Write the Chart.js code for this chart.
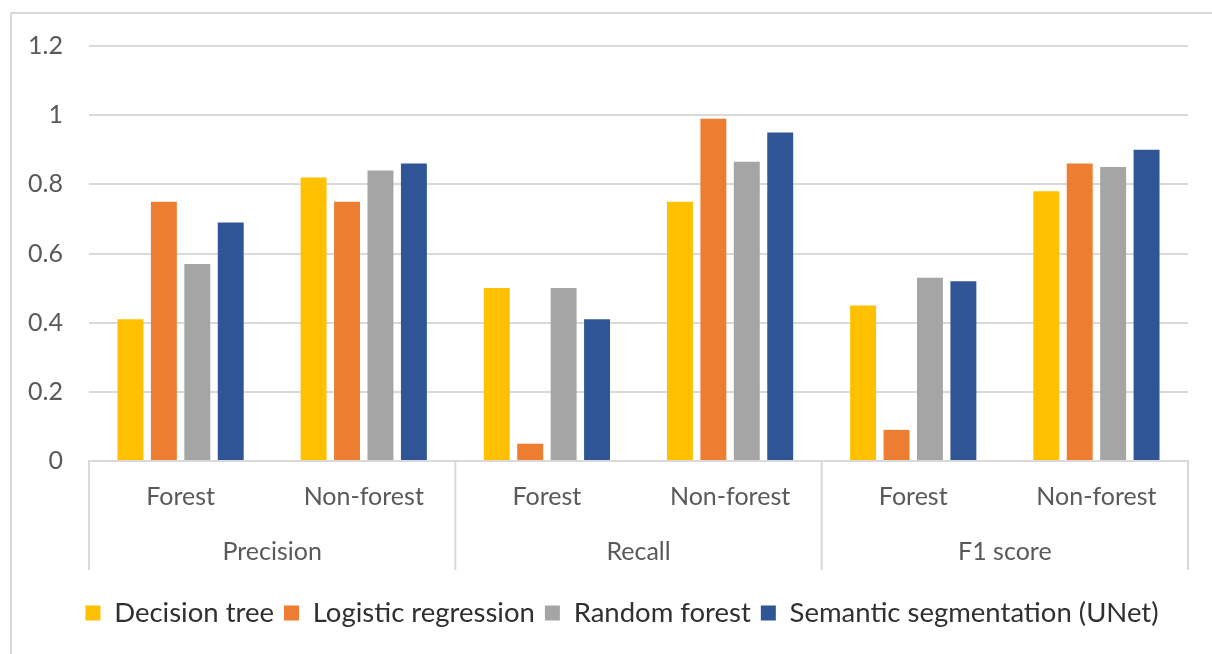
<!DOCTYPE html>
<html lang="en">
<head>
<meta charset="UTF-8">
<title>Forest / Non-forest metrics</title>
<script src="https://cdn.jsdelivr.net/npm/chart.js@4.4.0/dist/chart.umd.min.js"></script>
<style>
    body { margin: 0; background: #fff; overflow: hidden; }
    .moldura { position: absolute; left: 10px; top: 12px; width: 1300px; height: 800px; border: 2px solid #d9d9d9; box-sizing: border-box; }
    .grafico { position: absolute; left: 0; top: 0; width: 1212px; height: 654px; }
</style>
</head>
<body>
<div class="moldura"></div>
<div class="grafico"><canvas id="canvas"></canvas></div>
<script>
    // dados
    const categorias = ['Forest', 'Non-forest', 'Forest', 'Non-forest', 'Forest', 'Non-forest'];
    const grupos = ['Precision', 'Recall', 'F1 score'];
    const decisionTree = [0.41, 0.82, 0.50, 0.75, 0.45, 0.78];
    const logisticRegression = [0.75, 0.75, 0.05, 0.99, 0.09, 0.86];
    const randomForest = [0.57, 0.84, 0.50, 0.865, 0.53, 0.85];
    const unet = [0.69, 0.86, 0.41, 0.95, 0.52, 0.90];
    const ticksY = [0, 0.2, 0.4, 0.6, 0.8, 1, 1.2];

    const fonte = { family: 'Lato', size: 25 };
    const corTexto = '#595959';
    const corLinha = '#d9d9d9';

    // linhas verticais que separam os grupos (Precision / Recall / F1 score)
    const separadores = {
        id: 'separadores',
        afterLayout(chart) {
            // legenda um pouco deslocada para a direita, como no original
            chart.legend.left += 28;
            chart.legend.right += 28;
        },
        afterDraw(chart) {
            const x = chart.scales.x;
            const x2 = chart.scales.x2;
            const area = chart.chartArea;
            const porGrupo = categorias.length / grupos.length;
            let bordas = [area.left];
            for (let i = porGrupo; i < categorias.length; i += porGrupo) {
                bordas.push((x.getPixelForValue(i - 1) + x.getPixelForValue(i)) / 2);
            }
            bordas.push(area.right);
            const fim = x2.top + 37;
            const ctx = chart.ctx;
            ctx.save();
            ctx.strokeStyle = corLinha;
            ctx.lineWidth = 2;
            bordas.forEach(function (px) {
                ctx.beginPath();
                ctx.moveTo(px, area.bottom);
                ctx.lineTo(px, fim);
                ctx.stroke();
            });
            ctx.restore();
        }
    };

    const dados = {
        labels: categorias,
        datasets: [
            { label: 'Decision tree', data: decisionTree, backgroundColor: '#FFC000' },
            { label: 'Logistic regression', data: logisticRegression, backgroundColor: '#ED7D31' },
            { label: 'Random forest', data: randomForest, backgroundColor: '#A5A5A5' },
            { label: 'Semantic segmentation (UNet)', data: unet, backgroundColor: '#2F5597' }
        ]
    };

    const config = {
        type: 'bar',
        data: dados,
        options: {
            responsive: true,
            maintainAspectRatio: false,
            animation: false,
            barPercentage: 0.776,
            categoryPercentage: 0.73,
            layout: { padding: { left: 0, right: 24, top: 46, bottom: 17.25 } },
            plugins: {
                tooltip: { enabled: false },
                legend: {
                    position: 'bottom',
                    labels: {
                        color: '#303030',
                        font: { family: 'Lato', size: 27.5 },
                        boxWidth: 15,
                        boxHeight: 15,
                        padding: 10
                    }
                }
            },
            scales: {
                y: {
                    min: 0,
                    max: 1.2,
                    afterFit: function (s) { s.width = 89; },
                    afterBuildTicks: function (s) { s.ticks = ticksY.map(v => ({ value: v })); },
                    grid: { color: corLinha, lineWidth: 2, drawTicks: false },
                    border: { display: false },
                    ticks: {
                        color: corTexto,
                        font: fonte,
                        padding: 26,
                        callback: v => String(Number(v.toFixed(1)))
                    }
                },
                x: {
                    afterFit: function (s) { s.height = 72; },
                    grid: { display: false, drawTicks: false },
                    border: { display: true, color: corLinha, width: 2 },
                    ticks: { color: corTexto, font: fonte, padding: 21, maxRotation: 0, autoSkip: false }
                },
                x2: {
                    type: 'category',
                    labels: grupos,
                    position: 'bottom',
                    weight: 1,
                    offset: true,
                    afterFit: function (s) { s.height = 56.25; },
                    grid: { display: false, drawTicks: false },
                    border: { display: false },
                    ticks: { color: corTexto, font: fonte, padding: 4, maxRotation: 0 }
                }
            }
        },
        plugins: [separadores]
    };

    new Chart(document.getElementById('canvas'), config);
</script>
</body>
</html>
